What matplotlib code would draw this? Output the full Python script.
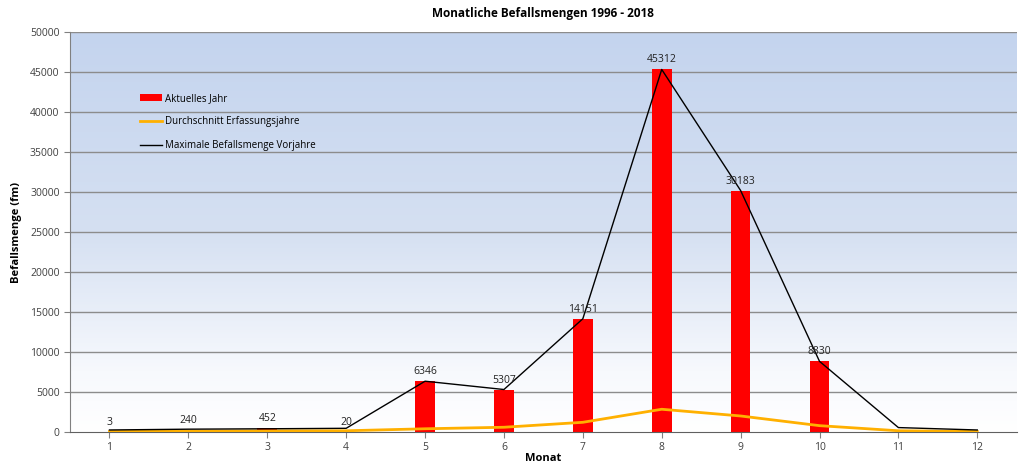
import numpy as np
from matplotlib import pyplot as plt
from matplotlib.colors import LinearSegmentedColormap

months = list(range(1, 13))
current_months = list(range(1, 11))
current_year = [3, 240, 452, 20, 6346, 5307, 14151, 45312, 30183, 8830]
average_years = [60, 100, 140, 150, 400, 590, 1210, 2840, 2000, 790, 150, 60]
max_previous = [250, 350, 400, 460, 6346, 5307, 14151, 45312, 30183, 8830, 550, 250]

plt.rcParams["font.family"] = ["Open Sans", "DejaVu Sans"]

fig = plt.figure(figsize=(10.24, 4.7), dpi=100)
ax = fig.add_axes([0.0684, 0.0809, 0.9245, 0.8511])

# Background gradient: white at bottom, light blue at top
cmap = LinearSegmentedColormap.from_list(
    "bg", [(0.0, "#ffffff"), (0.15, "#f7f9fd"), (0.5, "#d5e0f2"), (1.0, "#c4d4ee")]
)
grad = np.linspace(0, 1, 256).reshape(-1, 1)
ax.imshow(grad, extent=[0.5, 12.5, 0, 50000], origin="lower", aspect="auto",
          cmap=cmap, zorder=0)

ax.set_xlim(0.5, 12.5)
ax.set_ylim(0, 50000)

for y in range(5000, 50001, 5000):
    ax.axhline(y, color="#8c8c8c", lw=1.0, zorder=1)

bars = ax.bar(current_months, current_year, width=0.25, color="#ff0000", zorder=2,
              label="Aktuelles Jahr")
avg_line, = ax.plot(months, average_years, color="#ffb000", lw=2, zorder=3,
                    label="Durchschnitt Erfassungsjahre")
max_line, = ax.plot(months, max_previous, color="black", lw=1, zorder=4,
                    label="Maximale Befallsmenge Vorjahre")

for m, v in zip(current_months, current_year):
    ax.text(m, v + 500, str(v), ha="center", va="bottom", fontsize=7.5,
            color="#222222", zorder=5)

ax.set_xticks(months)
ax.set_yticks(range(0, 50001, 5000))
ax.tick_params(axis="both", labelsize=7.5, colors="#404040", length=4,
               color="#808080")
for s in ["top", "right"]:
    ax.spines[s].set_visible(False)
ax.spines["left"].set_color("#808080")
ax.spines["bottom"].set_color("#606060")

ax.set_xlabel("Monat", fontsize=8, fontweight="bold", labelpad=0)
ax.set_ylabel("Befallsmenge (fm)", fontsize=8, fontweight="bold", labelpad=6)
ax.set_title("Monatliche Befallsmengen 1996 - 2018", fontsize=8.5,
             fontweight="bold", pad=11)

ax.legend([bars, avg_line, max_line],
          ["Aktuelles Jahr", "Durchschnitt Erfassungsjahre",
           "Maximale Befallsmenge Vorjahre"],
          loc="upper left", bbox_to_anchor=(0.065, 0.87), frameon=False,
          fontsize=7, handlelength=2.2, labelspacing=1.3, handletextpad=0.3)

fig.savefig("out.png", dpi=100)
